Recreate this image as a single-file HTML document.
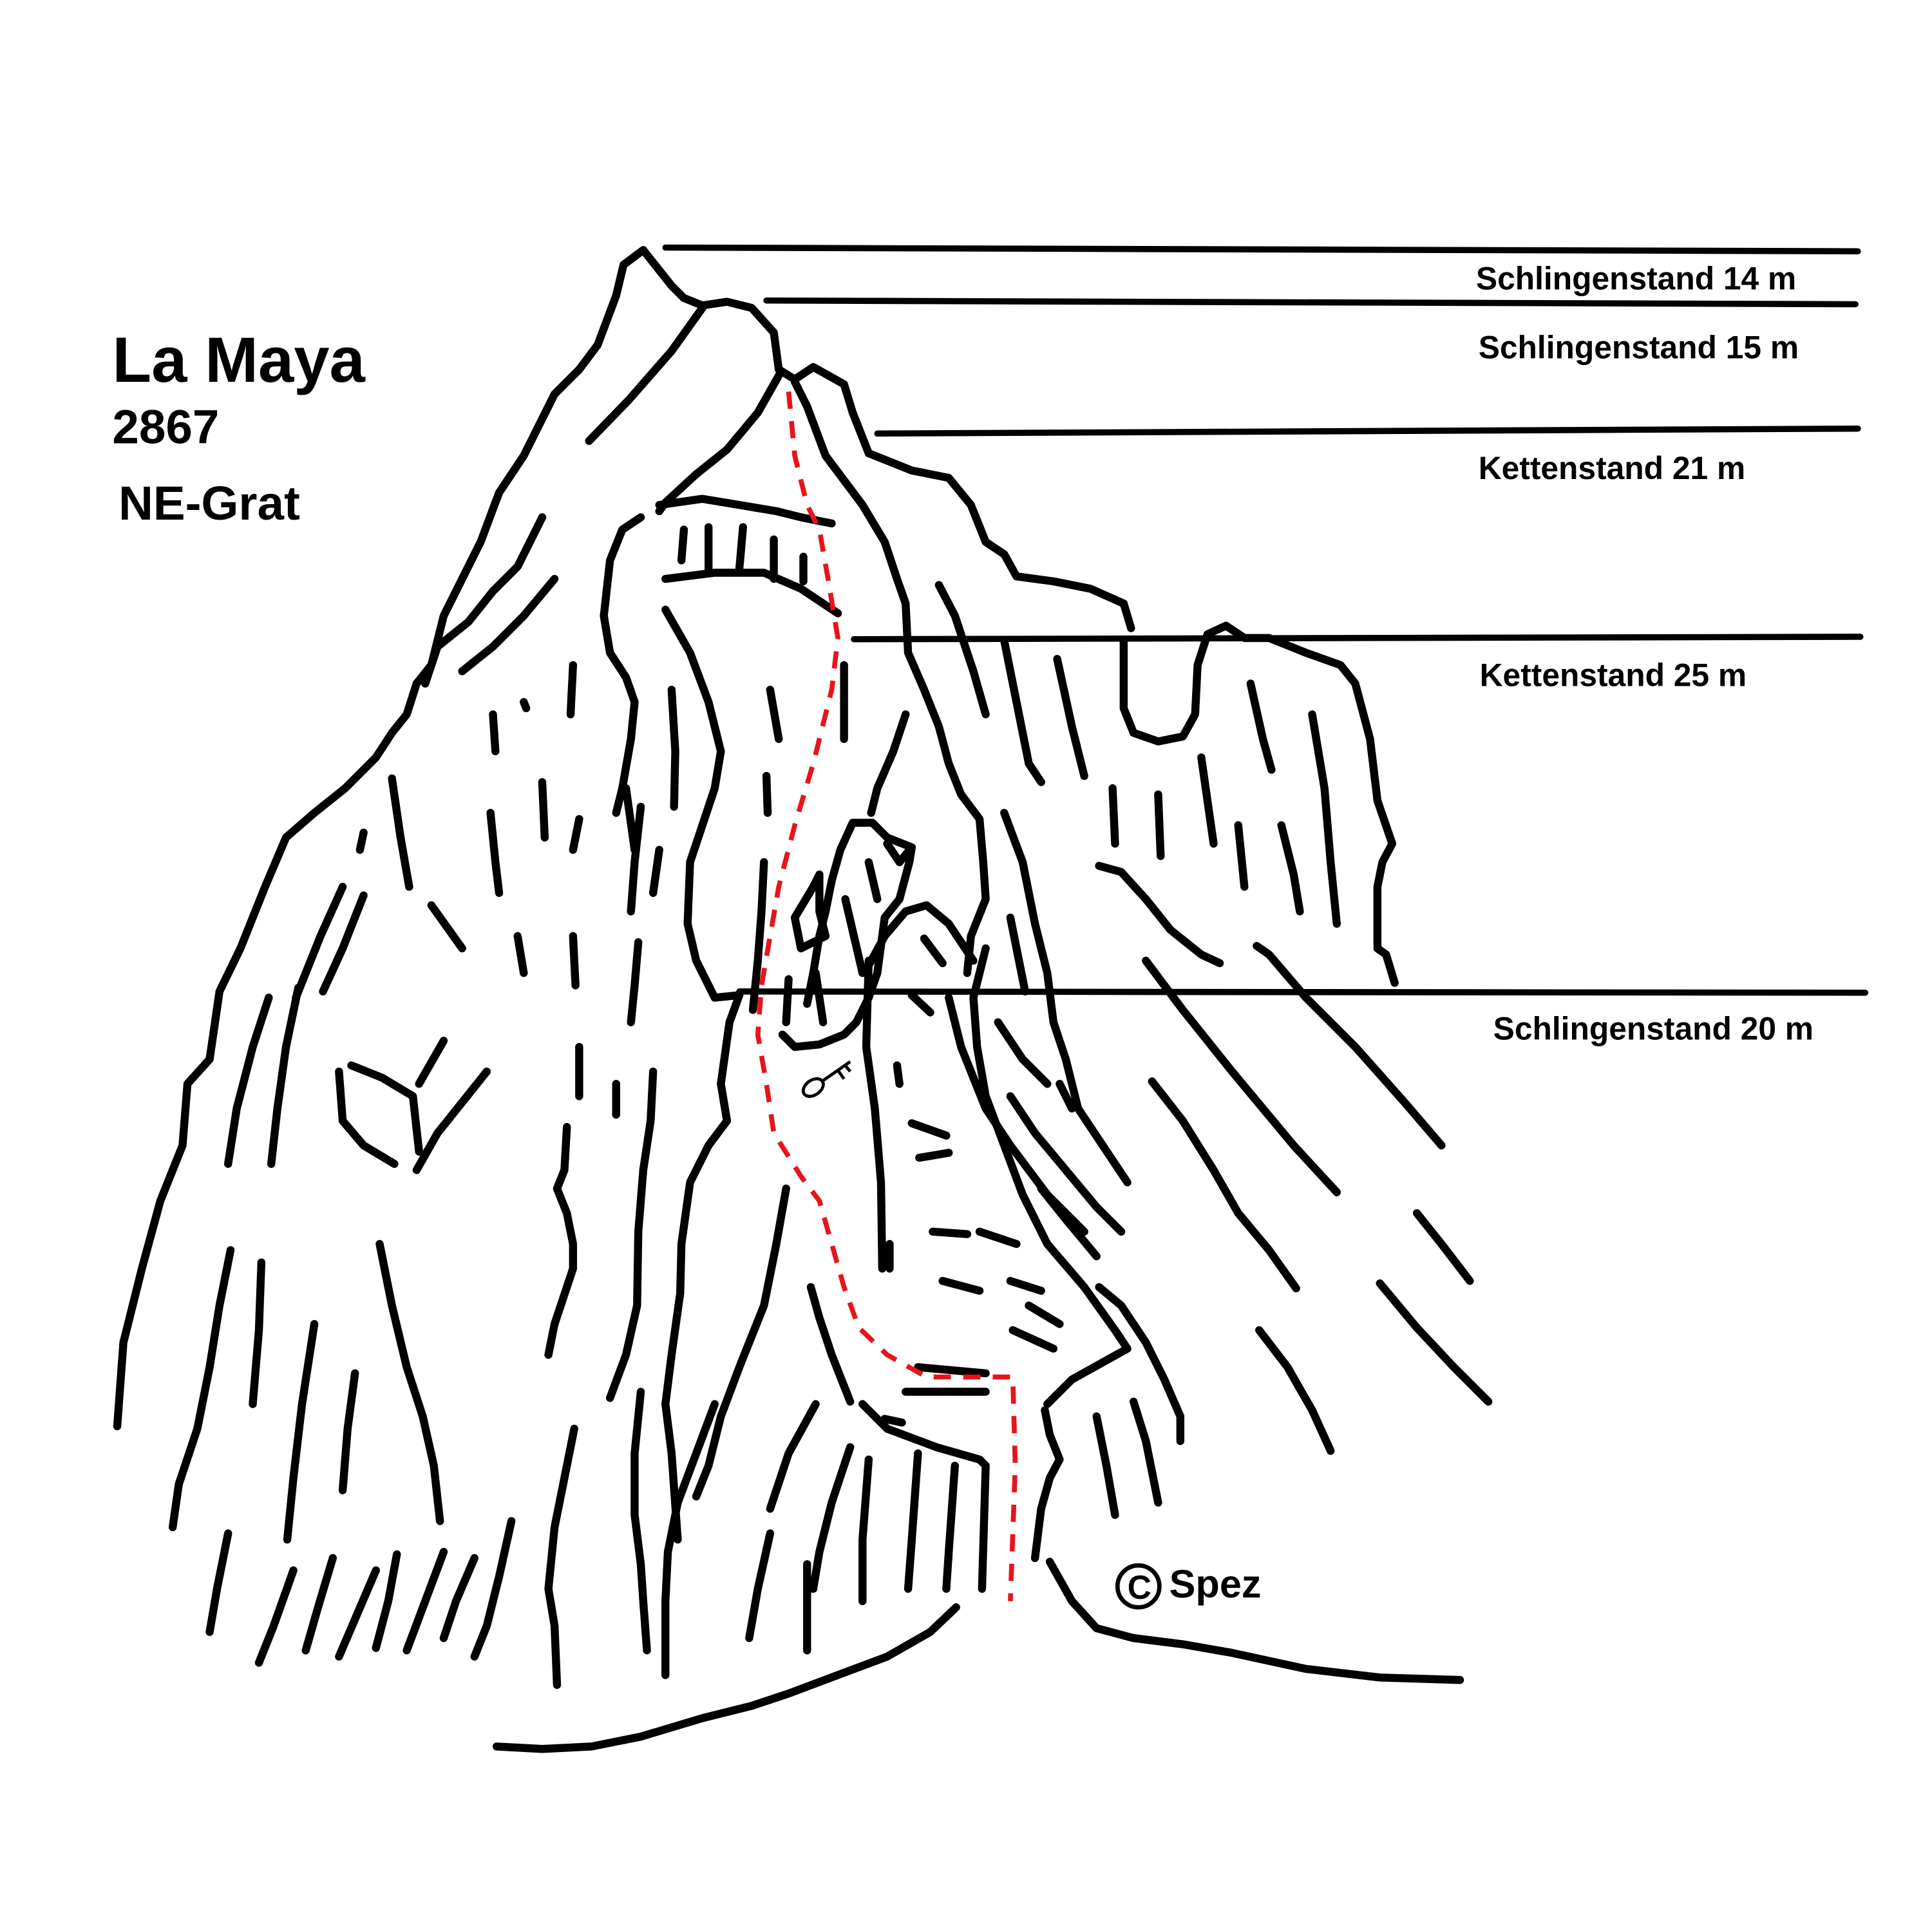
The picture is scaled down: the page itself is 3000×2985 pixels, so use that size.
<!DOCTYPE html>
<html><head><meta charset="utf-8"><style>
html,body{margin:0;padding:0;background:#fff}
svg{display:block}
text{font-family:"Liberation Sans",sans-serif;font-weight:bold;fill:#000}
</style></head><body>
<svg width="3000" height="2985" viewBox="0 0 1568 1560.5" xmlns="http://www.w3.org/2000/svg">
<g fill="none" stroke="#000" stroke-width="6.5" stroke-linecap="round" stroke-linejoin="round">
<path d="M540 201 L1508 204" stroke-width="5"/>
<path d="M622 244 L1506 247" stroke-width="5"/>
<path d="M712 352 L1508 348" stroke-width="5"/>
<path d="M693 519 L1510 517" stroke-width="5"/>
<path d="M600 805 L1514 806" stroke-width="5"/>
<path d="M95 1158 L100 1090 L115 1030 L130 975 L148 930 L152 880 L170 860 L178 805 L195 770 L215 720 L232 680 L255 660 L280 640 L305 615 L318 595 L330 580 L338 555 L350 540 L360 500 L375 470 L390 440 L405 400 L425 370 L440 340 L450 320 L470 300 L485 280 L500 240 L506 215 L522 203 L545 232 L555 242 L570 248 L590 245 L610 250 L628 270 L632 300 L645 308 L660 298 L685 312 L692 335 L705 368 L740 382 L770 388 L788 410 L800 440 L815 450 L825 468 L855 472 L885 478 L912 490 L918 510"/>
<path d="M912 520 L912 575 L920 595 L940 602 L960 598 L970 580 L972 540 L980 515 L995 508 L1010 518 L1030 518 L1060 530 L1088 540 L1100 555 L1112 600 L1118 650 L1130 685 L1122 700 L1118 720 L1118 770 L1125 775 L1132 798"/>
<path d="M570 250 L545 285 L510 325 L478 358"/>
<path d="M632 305 L615 335 L590 365 L565 385 L540 408 L535 415"/>
<path d="M645 310 L655 330 L670 370 L700 410 L718 440 L728 470 L735 490 L737 530 L750 560 L762 590 L770 620 L780 645 L795 665 L798 700 L800 730 L788 760 L785 790"/>
<path d="M535 410 L570 405 L600 410 L630 415 L650 420 L675 425"/>
<path d="M520 420 L505 430 L495 455 L490 500 L495 530 L508 550 L515 570 L512 600 L505 640 L500 660"/>
<path d="M540 470 L580 465 L620 465 L650 478 L680 498"/>
<path d="M555 430 L553 455 M575 428 L575 462 M603 428 L600 462 M628 438 L628 470 M652 452 L652 472"/>
<path d="M403 1418 L440 1420 L480 1418 L520 1410 L570 1395 L610 1385 L640 1375 L680 1360 L720 1345 L755 1325 L776 1305"/>
<path d="M852 1268 L870 1300 L890 1322 L920 1330 L960 1335 L1000 1342 L1060 1355 L1120 1362 L1185 1364"/>
<path d="M700 1140 L720 1160 L760 1175 L795 1185 L800 1190 L797 1290"/>
<path d="M690 1138 L675 1100 L665 1070 L658 1045"/>
<path d="M850 1140 L870 1120 L915 1095 L905 1080 L880 1045 L850 1010 L830 970 L815 930 L800 890 L793 850 L790 810 L800 770"/>
<path d="M848 1145 L852 1165 L860 1185 L852 1200 L845 1225 L840 1265"/>
<path d="M706 782 L718 760 L735 740 L752 735 L770 750 L790 780"/>
<path d="M705 780 L703 850 L710 900 L715 960 L716 1030"/>
<path d="M635 840 L645 850 L665 848 L685 840 L695 830 L705 810 L712 790 L718 745 L730 730 L738 700 L740 688 L720 680 L708 668 L692 668 L682 690 L675 715 L670 740 L665 760 L660 790 L655 815"/>
<path d="M640 795 L638 830 M648 760 L645 745 L660 720 L665 710 L665 740 L670 760 L650 770 Z"/>
<path d="M686 730 L700 790 M705 700 L712 730 M720 685 L730 700 L740 688 M662 790 L668 830"/>
<path d="M600 808 L592 830 L585 880 L590 910 L575 930 L560 960 L553 1010 L552 1050 L545 1100 L540 1140 L545 1180 L550 1250"/>
<path d="M600 808 L580 810 L565 780 L558 750 L560 700 L570 670 L580 640 L585 610 L575 570 L560 530 L540 495"/>
<path d="M611 820 L615 780 L618 740 L620 700"/>
<path d="M625 560 L632 600 M622 630 L623 660 M685 540 L685 600"/>
<path d="M735 580 L725 610 L712 640 L707 660"/>
<path d="M762 475 L775 500 L790 545 L800 580"/>
<path d="M815 520 L825 570 L835 620 L845 635"/>
<path d="M858 535 L870 590 L880 630"/>
<path d="M903 640 L905 685 M940 645 L942 695 M975 615 L980 650 L985 685 M1005 670 L1010 720 M1015 555 L1025 600 L1032 625 M1040 670 L1050 710 L1055 740 M1065 580 L1075 640 L1080 700 L1085 750"/>
<path d="M892 703 L910 708 L930 730 L950 755 L975 775 L990 782"/>
<path d="M930 780 L960 820 L1000 870 L1050 930 L1085 968"/>
<path d="M1020 768 L1030 775 L1060 810 L1100 850 L1140 895 L1170 930"/>
<path d="M935 878 L960 910 L985 950 L1005 985 L1030 1015 L1052 1046"/>
<path d="M1150 985 L1170 1010 L1193 1040"/>
<path d="M1120 1042 L1150 1078 L1180 1110 L1208 1138"/>
<path d="M1022 1080 L1045 1110 L1065 1145 L1080 1178"/>
<path d="M892 1045 L910 1060 L930 1090 L945 1120 L958 1150 L958 1170"/>
<path d="M920 1138 L930 1170 L940 1220 M890 1150 L898 1190 L905 1230"/>
<path d="M815 660 L830 700 L840 750 L850 790 L855 830 L865 860 L875 900 L895 930 L915 960"/>
<path d="M770 810 L780 850 L800 900 L820 930 L850 970 L880 1000"/>
<path d="M820 890 L840 920 L865 950 L890 980 L910 1000"/>
<path d="M810 830 L830 860 L850 880"/>
<path d="M845 965 L865 990 L890 1020"/>
<path d="M820 745 L825 770 L832 805 M860 880 L870 900"/>
<path d="M750 762 L765 782 M740 808 L755 822 M740 912 L768 922 M746 940 L770 936 M757 1000 L785 1002 M795 1000 L825 1010 M765 1040 L795 1048 M820 1040 L845 1048 M835 1060 L860 1075 M822 1080 L855 1095 M745 1110 L800 1115 M735 1130 L800 1130 M718 1152 L732 1155"/>
<path d="M728 865 L730 880 M722 1010 L722 1030"/>
<path d="M318 632 L325 680 L332 720 M295 676 L292 690 M278 720 L260 760 L240 810 M295 727 L278 770 L262 805 M350 735 L375 770"/>
<path d="M218 810 L205 850 L192 900 L185 945 M242 802 L232 850 L225 900 L220 945"/>
<path d="M275 870 L278 910 L295 930 L320 945 M285 865 L310 875 L335 890 L340 935 M340 880 L360 845 M395 870 L375 895 L355 920 L338 950"/>
<path d="M187 1015 L178 1060 L170 1110 L160 1160 L145 1205 L140 1240 M212 1025 L210 1080 L205 1140 M255 1075 L245 1140 L238 1200 L233 1250 M288 1115 L282 1160 L278 1210 M308 1010 L318 1060 L330 1110 L343 1150 L352 1190 L357 1235"/>
<path d="M185 1245 L176 1290 L170 1325 M238 1275 L222 1320 L210 1350 M270 1265 L258 1305 L248 1340 M305 1275 L290 1310 L275 1345 M322 1262 L315 1300 L305 1338 M360 1260 L345 1300 L330 1340 M385 1265 L370 1300 L360 1330 M415 1235 L405 1280 L395 1320 L385 1345"/>
<path d="M425 570 L427 575 M400 580 L402 610 M398 660 L402 700 L405 725 M440 635 L442 680 M465 540 L463 580 M470 665 L465 690 M420 760 L425 790 M465 760 L467 800"/>
<path d="M345 555 L355 525 L380 505 L400 480 L420 460 L440 420 M375 545 L400 525 L425 500 L450 470"/>
<path d="M508 640 L515 690 M520 655 L515 700 L512 740 M545 560 L548 610 L547 655 M518 765 L515 800 L512 830 M535 690 L530 725"/>
<path d="M470 850 L470 890 M500 880 L500 905 M460 915 L458 950 L452 965 L460 985 L465 1010 L465 1030 L460 1045 L450 1075 L445 1100"/>
<path d="M530 870 L528 910 L522 950 L518 1000 L517 1060 L508 1100 L495 1135"/>
<path d="M638 965 L630 1010 L620 1060 L600 1110 L585 1150 L575 1190 L565 1215"/>
<path d="M466 1160 L458 1200 L450 1240 L445 1290 L450 1320 L452 1368"/>
<path d="M520 1130 L515 1180 L515 1230 L520 1270 L522 1300 L525 1340"/>
<path d="M580 1140 L565 1180 L550 1220 L542 1260 L540 1300 L540 1360"/>
<path d="M662 1140 L640 1180 L625 1225 M690 1175 L675 1220 L665 1260 L660 1290 M705 1185 L700 1250 L700 1300 M745 1180 L740 1250 L737 1290 M775 1190 L770 1260 L768 1290 M625 1245 L615 1290 L608 1330 M655 1270 L655 1340"/>
</g>
<g fill="none" stroke="#000" stroke-width="2.5">
<ellipse cx="660" cy="883" rx="9" ry="6" transform="rotate(-35 660 883)"/>
<path d="M667 878 L690 862 M680 869 L685 876 M686 865 L690 870"/>
<circle cx="924" cy="1288" r="17" stroke-width="3.5"/>
</g>
<path d="M640 318 L645 370 L655 410 L665 430 L672 470 L680 518 L675 560 L660 620 L645 670 L632 720 L625 760 L618 800 L615 840 L622 880 L628 920 L650 955 L665 975 L675 1010 L685 1045 L697 1078 L720 1100 L752 1118 L822 1118 L824 1190 L820 1300" fill="none" stroke="#e8141c" stroke-width="4" stroke-dasharray="14 10"/>
<text x="1198" y="235" font-size="26">Schlingenstand 14 m</text>
<text x="1200" y="291" font-size="26">Schlingenstand 15 m</text>
<text x="1200" y="389" font-size="26">Kettenstand 21 m</text>
<text x="1201" y="557" font-size="26">Kettenstand 25 m</text>
<text x="1212" y="844" font-size="26">Schlingenstand 20 m</text>
<text x="91" y="310" font-size="52">La Maya</text>
<text x="91" y="360" font-size="39">2867</text>
<text x="96" y="422" font-size="39">NE-Grat</text>
<text x="915" y="1298" font-size="27">C</text>
<text x="949" y="1297" font-size="32">Spez</text>
</svg>
</body></html>
